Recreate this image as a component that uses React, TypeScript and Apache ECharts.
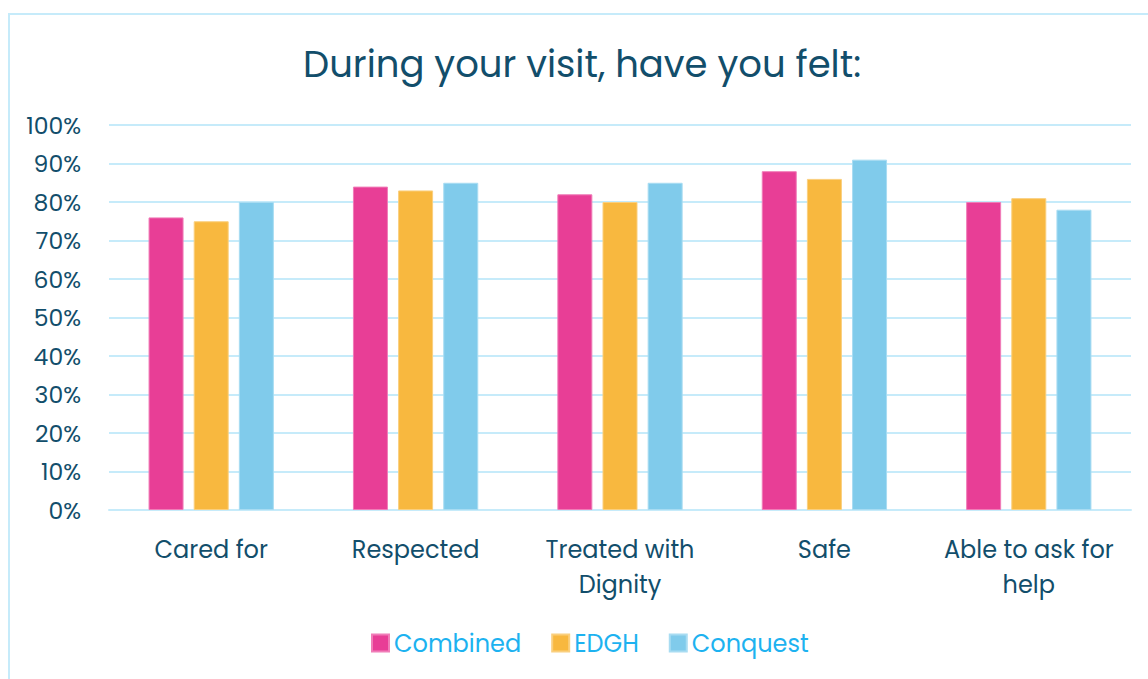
import React, { useEffect, useRef } from "react";
import * as echarts from "echarts";

const categories = ["Cared for", "Respected", "Treated with\nDignity", "Safe", "Able to ask for\nhelp"];
const combined = [76, 84, 82, 88, 80];
const edgh = [75, 83, 80, 86, 81];
const conquest = [80, 85, 85, 91, 78];
const seriesNames = ["Combined", "EDGH", "Conquest"];
const colors = ["#E83E96", "#F8B83F", "#80CBEB"];
const borders = ["#F07DB8", "#FACF7E", "#A8DCF2"];

const FONT = "Poppins, 'Open Sans', 'Noto Sans', sans-serif";
const DARK = "#124E6B";

export default function App() {
  const ref = useRef<HTMLDivElement>(null);
  useEffect(() => {
    document.body.style.margin = "0";
    const chart = echarts.init(ref.current!, undefined, { renderer: "svg" });
    const data = [combined, edgh, conquest];
    chart.setOption({
      animation: false,
      textStyle: { fontFamily: FONT },
      title: {
        text: "During your visit, have you felt:",
        left: 298,
        top: 40,
        textStyle: { fontFamily: FONT, fontSize: 37, fontWeight: "normal", color: DARK },
      },
      graphic: [
        {
          type: "rect",
          shape: { x: 9, y: 14, width: 1160, height: 700 },
          style: { fill: "none", stroke: "#C6EBFA", lineWidth: 2 },
          silent: true,
        },
      ],
      legend: {
        bottom: 19,
        left: 366,
        itemWidth: 17,
        itemHeight: 17,
        itemGap: 30,
        icon: "rect",
        textStyle: { fontFamily: FONT, fontSize: 24, color: "#1DB2F0" },
        data: seriesNames,
      },
      grid: { left: 109, right: 17, top: 125, bottom: 169, containLabel: false },
      xAxis: {
        type: "category",
        data: categories,
        axisLine: { show: true, lineStyle: { color: "#C6EBFA", width: 2 } },
        axisTick: { show: false },
        axisLabel: {
          fontFamily: FONT,
          fontSize: 24,
          color: DARK,
          margin: 22,
          lineHeight: 35,
          interval: 0,
        },
      },
      yAxis: {
        type: "value",
        min: 0,
        max: 100,
        interval: 10,
        axisLine: { show: false },
        axisTick: { show: false },
        splitLine: { lineStyle: { color: "#C6EBFA", width: 2 } },
        axisLabel: {
          fontFamily: FONT,
          fontSize: 23.5,
          color: DARK,
          margin: 28,
          formatter: "{value}%",
        },
      },
      series: seriesNames.map((name, i) => ({
        name,
        type: "bar",
        data: data[i],
        barWidth: 35,
        barGap: "29%",
        itemStyle: { color: colors[i], borderColor: borders[i], borderWidth: 1 },
      })),
    });
    return () => chart.dispose();
  }, []);
  return (
    <div
      ref={ref}
      style={{ position: "absolute", left: 0, top: 0, width: 1148, height: 679, background: "#fff" }}
    />
  );
}
